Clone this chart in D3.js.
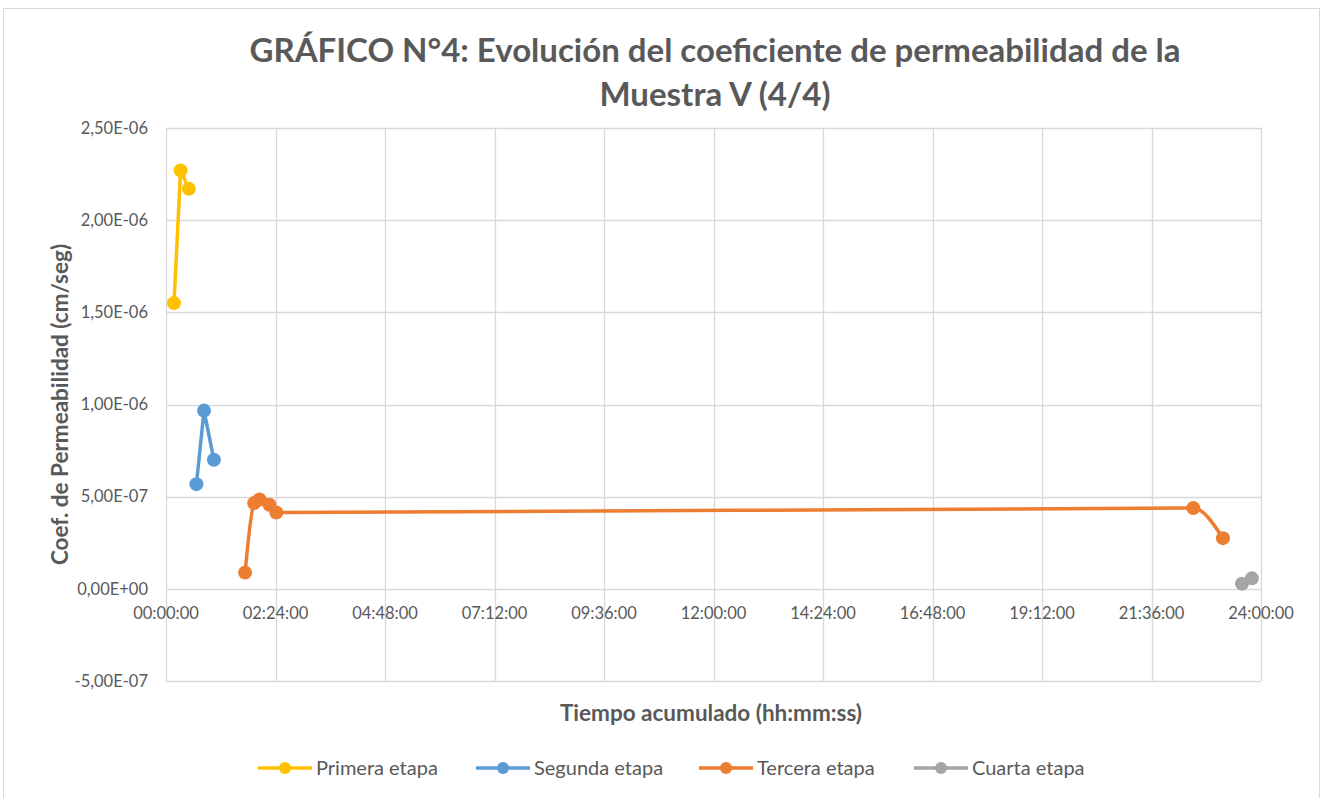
<!DOCTYPE html>
<html>
<head>
<meta charset="utf-8">
<script src="https://cdn.jsdelivr.net/npm/d3@7"></script>
<style>
  body { margin: 0; background: #fff; }
  text { font-family: Lato, "Open Sans", sans-serif; fill: #595959; }
</style>
</head>
<body>
<div id="chart"></div>
<script>
// time is "hh:mm:ss" accumulated, values in cm/seg
const primeraTimes = ['00:10:30', '00:19:12', '00:30:00'];
const primeraValues = [1.55e-6, 2.27e-6, 2.17e-6];
const segundaTimes = ['00:40:00', '00:50:00', '01:03:00'];
const segundaValues = [5.68e-7, 9.67e-7, 7.0e-7];
const terceraTimes = ['01:44:00', '01:56:00', '02:03:00', '02:16:00', '02:25:00', '22:31:00', '23:10:00'];
const terceraValues = [8.8e-8, 4.65e-7, 4.85e-7, 4.56e-7, 4.14e-7, 4.38e-7, 2.75e-7];
const cuartaTimes = ['23:35:00', '23:48:00'];
const cuartaValues = [2.8e-8, 5.7e-8];

const seriesNames = ['Primera etapa', 'Segunda etapa', 'Tercera etapa', 'Cuarta etapa'];
const seriesColors = ['#FFC000', '#5B9BD5', '#ED7D31', '#A5A5A5'];
const yTicks = [-5e-7, 0, 5e-7, 1e-6, 1.5e-6, 2e-6, 2.5e-6];
const xTickHours = [0, 2.4, 4.8, 7.2, 9.6, 12, 14.4, 16.8, 19.2, 21.6, 24];

const W = 1323, H = 798;
const plot = {left: 166, right: 1261, top: 128, bottom: 681};

function toHours(s) {
  const p = s.split(':').map(Number);
  return p[0] + p[1] / 60 + p[2] / 3600;
}
function hoursLabel(h) {
  const totalMin = Math.round(h * 60);
  const hh = String(Math.floor(totalMin / 60)).padStart(2, '0');
  const mm = String(totalMin % 60).padStart(2, '0');
  return hh + ':' + mm + ':00';
}
function sciLabel(v) {
  if (v === 0) return '0,00E+00';
  const e = Math.floor(Math.log10(Math.abs(v)) + 1e-9);
  const m = v / Math.pow(10, e);
  const sign = e < 0 ? '-' : '+';
  return m.toFixed(2).replace('.', ',') + 'E' + sign + String(Math.abs(e)).padStart(2, '0');
}

const series = [
  {times: primeraTimes, values: primeraValues, smooth: false},
  {times: segundaTimes, values: segundaValues, smooth: false},
  {times: terceraTimes, values: terceraValues, smooth: true},
  {times: cuartaTimes, values: cuartaValues, smooth: false}
].map((s, i) => ({
  name: seriesNames[i],
  color: seriesColors[i],
  smooth: s.smooth,
  points: s.times.map((t, j) => ({x: toHours(t), y: s.values[j]}))
}));

const svg = d3.select('#chart').append('svg')
  .attr('width', W).attr('height', H);

// chart frame
svg.append('rect')
  .attr('x', 3.5).attr('y', 8.5)
  .attr('width', 1316).attr('height', 800)
  .attr('fill', 'none').attr('stroke', '#d9d9d9');

const x = d3.scaleLinear().domain([0, 24]).range([plot.left, plot.right]);
const y = d3.scaleLinear().domain([-5e-7, 2.5e-6]).range([plot.bottom, plot.top]);

// gridlines
svg.append('g').selectAll('line.h').data(yTicks).join('line')
  .attr('x1', plot.left).attr('x2', plot.right)
  .attr('y1', d => Math.round(y(d)) + 0.5).attr('y2', d => Math.round(y(d)) + 0.5)
  .attr('stroke', '#d9d9d9').attr('stroke-width', 1.3);
svg.append('g').selectAll('line.v').data(xTickHours).join('line')
  .attr('x1', d => Math.round(x(d)) + 0.5).attr('x2', d => Math.round(x(d)) + 0.5)
  .attr('y1', plot.top).attr('y2', plot.bottom)
  .attr('stroke', '#d9d9d9').attr('stroke-width', 1.3);

// y tick labels
svg.append('g').selectAll('text').data(yTicks).join('text')
  .attr('x', 148).attr('y', d => y(d))
  .attr('dy', '0.35em').attr('text-anchor', 'end')
  .style('font-size', '16.5px')
  .text(sciLabel);

// x tick labels (axis crosses at 0)
svg.append('g').selectAll('text').data(xTickHours).join('text')
  .attr('x', d => x(d)).attr('y', y(0) + 24)
  .attr('dy', '0.35em').attr('text-anchor', 'middle')
  .style('font-size', '16.5px')
  .text(hoursLabel);

// series
const straight = d3.line().x(d => x(d.x)).y(d => y(d.y));
const smoothLine = d3.line().x(d => x(d.x)).y(d => y(d.y)).curve(d3.curveMonotoneX);

series.forEach(s => {
  const g = svg.append('g');
  g.append('path')
    .attr('d', (s.smooth ? smoothLine : straight)(s.points))
    .attr('fill', 'none').attr('stroke', s.color)
    .attr('stroke-width', 3.5).attr('stroke-linejoin', 'round').attr('stroke-linecap', 'round');
  g.selectAll('circle').data(s.points).join('circle')
    .attr('cx', d => x(d.x)).attr('cy', d => y(d.y))
    .attr('r', 7).attr('fill', s.color);
});

// title
svg.append('text')
  .attr('x', 715).attr('y', 62).attr('text-anchor', 'middle')
  .style('font-size', '33px').style('font-weight', 'bold')
  .text('GRÁFICO N°4: Evolución del coeficiente de permeabilidad de la');
svg.append('text')
  .attr('x', 715).attr('y', 106).attr('text-anchor', 'middle')
  .style('font-size', '33px').style('font-weight', 'bold')
  .text('Muestra V (4/4)');

// axis titles
svg.append('text')
  .attr('x', 711).attr('y', 713).attr('dy', '0.35em').attr('text-anchor', 'middle')
  .style('font-size', '22.5px').style('font-weight', 'bold')
  .text('Tiempo acumulado (hh:mm:ss)');
svg.append('text')
  .attr('transform', 'translate(60,' + ((plot.top + plot.bottom) / 2) + ') rotate(-90)')
  .attr('dy', '0.35em').attr('text-anchor', 'middle')
  .style('font-size', '22.5px').style('font-weight', 'bold')
  .text('Coef. de Permeabilidad (cm/seg)');

// legend
const legendX = [258, 476, 699, 914];
const legend = svg.append('g');
series.forEach((s, i) => {
  const lg = legend.append('g').attr('transform', 'translate(' + legendX[i] + ',768)');
  lg.append('line').attr('x1', 0).attr('x2', 54).attr('y1', 0).attr('y2', 0)
    .attr('stroke', s.color).attr('stroke-width', 3.5);
  lg.append('circle').attr('cx', 27).attr('cy', 0).attr('r', 6).attr('fill', s.color);
  lg.append('text').attr('x', 58).attr('y', 0).attr('dy', '0.35em')
    .style('font-size', '20px').text(s.name);
});
</script>
</body>
</html>
